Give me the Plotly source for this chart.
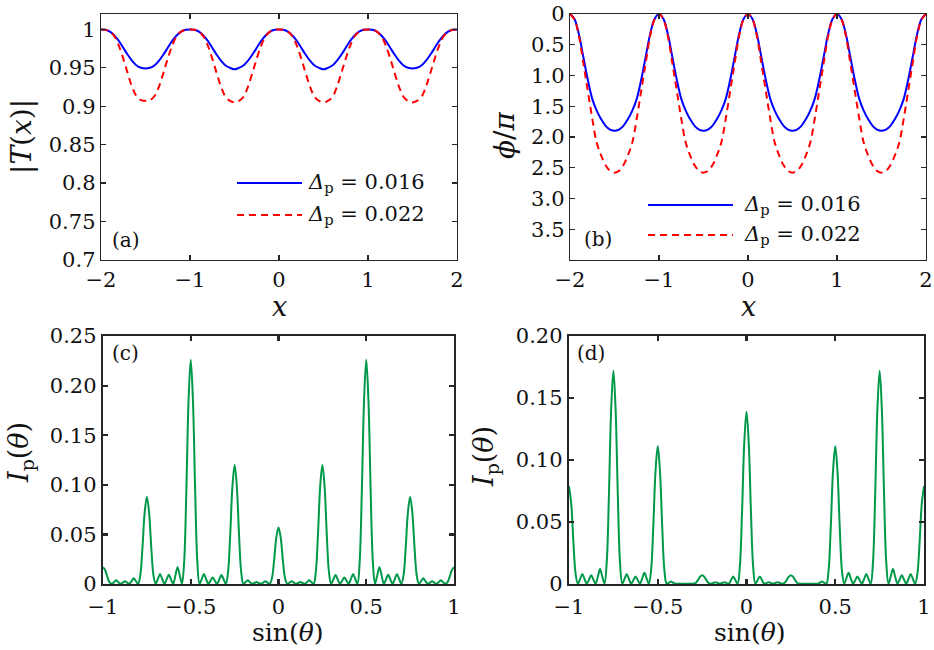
import numpy as np
import plotly.graph_objects as go

W, H = 934, 650

# ---------------- data ----------------
x_top = np.round(np.linspace(-2, 2, 81), 3)          # x, step 0.05
x_bot = np.round(np.linspace(-1, 1, 161), 4)         # sin(theta), step 0.0125

absT_016 = [
    1.000, 0.9995, 0.997, 0.992, 0.985, 0.976, 0.967, 0.959, 0.953, 0.950, 0.949, 0.950, 0.953, 0.959, 0.967, 0.976, 0.985, 0.992, 0.997, 0.9995,
    1.000, 0.9995, 0.997, 0.992, 0.985, 0.976, 0.967, 0.959, 0.953, 0.950, 0.948, 0.950, 0.953, 0.959, 0.967, 0.976, 0.985, 0.992, 0.997, 0.9995,
    1.000, 0.9995, 0.997, 0.992, 0.985, 0.976, 0.967, 0.959, 0.953, 0.950, 0.948, 0.950, 0.953, 0.959, 0.967, 0.976, 0.985, 0.992, 0.997, 0.9995,
    1.000, 0.9995, 0.997, 0.992, 0.985, 0.976, 0.967, 0.959, 0.953, 0.950, 0.949, 0.950, 0.953, 0.959, 0.967, 0.976, 0.985, 0.992, 0.997, 0.9995,
    1.000]
absT_022 = [
    1.000, 0.9995, 0.997, 0.991, 0.979, 0.962, 0.943, 0.925, 0.913, 0.908, 0.907, 0.908, 0.913, 0.925, 0.943, 0.962, 0.979, 0.991, 0.997, 0.9995,
    1.000, 0.9995, 0.997, 0.991, 0.979, 0.962, 0.943, 0.925, 0.912, 0.907, 0.905, 0.907, 0.912, 0.925, 0.943, 0.962, 0.979, 0.991, 0.997, 0.9995,
    1.000, 0.9995, 0.997, 0.991, 0.979, 0.962, 0.943, 0.925, 0.912, 0.907, 0.905, 0.907, 0.912, 0.925, 0.943, 0.962, 0.979, 0.991, 0.997, 0.9995,
    1.000, 0.9995, 0.997, 0.991, 0.979, 0.962, 0.943, 0.925, 0.912, 0.907, 0.905, 0.907, 0.912, 0.925, 0.943, 0.962, 0.979, 0.991, 0.997, 0.9995,
    1.000]
phi_016 = [
    0.00, 0.08, 0.33, 0.70, 1.07, 1.38, 1.57, 1.71, 1.82, 1.88, 1.90, 1.88, 1.82, 1.71, 1.57, 1.38, 1.07, 0.70, 0.33, 0.08,
    0.00, 0.08, 0.33, 0.70, 1.07, 1.38, 1.57, 1.71, 1.82, 1.88, 1.90, 1.88, 1.82, 1.71, 1.57, 1.38, 1.07, 0.70, 0.33, 0.08,
    0.00, 0.08, 0.33, 0.70, 1.07, 1.38, 1.57, 1.71, 1.82, 1.88, 1.90, 1.88, 1.82, 1.71, 1.57, 1.38, 1.07, 0.70, 0.33, 0.08,
    0.00, 0.08, 0.33, 0.70, 1.07, 1.38, 1.57, 1.71, 1.82, 1.88, 1.90, 1.88, 1.82, 1.71, 1.57, 1.38, 1.07, 0.70, 0.33, 0.08,
    0.00]
phi_022 = [
    0.00, 0.09, 0.36, 0.80, 1.25, 1.70, 2.09, 2.30, 2.46, 2.55, 2.58, 2.55, 2.46, 2.30, 2.09, 1.70, 1.25, 0.80, 0.36, 0.09,
    0.00, 0.09, 0.36, 0.80, 1.25, 1.70, 2.09, 2.30, 2.46, 2.55, 2.58, 2.55, 2.46, 2.30, 2.09, 1.70, 1.25, 0.80, 0.36, 0.09,
    0.00, 0.09, 0.36, 0.80, 1.25, 1.70, 2.09, 2.30, 2.46, 2.55, 2.58, 2.55, 2.46, 2.30, 2.09, 1.70, 1.25, 0.80, 0.36, 0.09,
    0.00, 0.09, 0.36, 0.80, 1.25, 1.70, 2.09, 2.30, 2.46, 2.55, 2.58, 2.55, 2.46, 2.30, 2.09, 1.70, 1.25, 0.80, 0.36, 0.09,
    0.00]

Ip_c = [
    0.0170, 0.0139, 0.0071, 0.0017, 0.0003, 0.0018, 0.0037, 0.0018, 0.0003, 0.0013, 0.0027, 0.0013, 0.0003, 0.0028, 0.0057, 0.0028, 0.0003, 0.0088, 0.0370, 0.0722, 0.0880,
    0.0722, 0.0370, 0.0088, 0.0003, 0.0050, 0.0100, 0.0050, 0.0003, 0.0046, 0.0093, 0.0046, 0.0003, 0.0085, 0.0170, 0.0085, 0.0003, 0.0226, 0.0949, 0.1853, 0.2260,
    0.1853, 0.0949, 0.0226, 0.0003, 0.0050, 0.0100, 0.0050, 0.0003, 0.0033, 0.0065, 0.0033, 0.0003, 0.0045, 0.0090, 0.0045, 0.0003, 0.0120, 0.0504, 0.0984, 0.1200,
    0.0984, 0.0504, 0.0120, 0.0003, 0.0018, 0.0037, 0.0018, 0.0003, 0.0010, 0.0020, 0.0010, 0.0003, 0.0013, 0.0027, 0.0013, 0.0003, 0.0057, 0.0239, 0.0467, 0.0570,
    0.0467, 0.0239, 0.0057, 0.0003, 0.0013, 0.0027, 0.0013, 0.0003, 0.0010, 0.0020, 0.0010, 0.0003, 0.0018, 0.0037, 0.0018, 0.0003, 0.0120, 0.0504, 0.0984, 0.1200,
    0.0984, 0.0504, 0.0120, 0.0003, 0.0045, 0.0090, 0.0045, 0.0003, 0.0033, 0.0065, 0.0033, 0.0003, 0.0050, 0.0100, 0.0050, 0.0003, 0.0226, 0.0949, 0.1853, 0.2260,
    0.1853, 0.0949, 0.0226, 0.0003, 0.0085, 0.0170, 0.0085, 0.0003, 0.0046, 0.0093, 0.0046, 0.0003, 0.0050, 0.0100, 0.0050, 0.0003, 0.0088, 0.0370, 0.0722, 0.0880,
    0.0722, 0.0370, 0.0088, 0.0003, 0.0028, 0.0057, 0.0028, 0.0003, 0.0013, 0.0027, 0.0013, 0.0003, 0.0018, 0.0037, 0.0018, 0.0003, 0.0017, 0.0071, 0.0139, 0.0170]

Ip_d = [
    0.0790, 0.0648, 0.0332, 0.0079, 0.0003, 0.0040, 0.0080, 0.0040, 0.0003, 0.0035, 0.0070, 0.0035, 0.0003, 0.0060, 0.0120, 0.0060, 0.0003, 0.0172, 0.0722, 0.1410, 0.1720,
    0.1410, 0.0722, 0.0172, 0.0003, 0.0040, 0.0080, 0.0040, 0.0003, 0.0030, 0.0060, 0.0030, 0.0003, 0.0045, 0.0090, 0.0045, 0.0003, 0.0111, 0.0466, 0.0910, 0.1110,
    0.0910, 0.0466, 0.0111, 0.0003, 0.0010, 0.0020, 0.0010, 0.0003, 0.0003, 0.0003, 0.0003, 0.0003, 0.0003, 0.0003, 0.0003, 0.0003, 0.0007, 0.0029, 0.0057, 0.0070,
    0.0057, 0.0029, 0.0007, 0.0003, 0.0008, 0.0015, 0.0008, 0.0003, 0.0008, 0.0015, 0.0008, 0.0003, 0.0030, 0.0060, 0.0030, 0.0003, 0.0139, 0.0584, 0.1140, 0.1390,
    0.1140, 0.0584, 0.0139, 0.0003, 0.0030, 0.0060, 0.0030, 0.0003, 0.0008, 0.0015, 0.0008, 0.0003, 0.0008, 0.0015, 0.0008, 0.0003, 0.0007, 0.0029, 0.0057, 0.0070,
    0.0057, 0.0029, 0.0007, 0.0003, 0.0003, 0.0003, 0.0003, 0.0003, 0.0003, 0.0003, 0.0003, 0.0003, 0.0010, 0.0020, 0.0010, 0.0003, 0.0111, 0.0466, 0.0910, 0.1110,
    0.0910, 0.0466, 0.0111, 0.0003, 0.0045, 0.0090, 0.0045, 0.0003, 0.0030, 0.0060, 0.0030, 0.0003, 0.0040, 0.0080, 0.0040, 0.0003, 0.0172, 0.0722, 0.1410, 0.1720,
    0.1410, 0.0722, 0.0172, 0.0003, 0.0060, 0.0120, 0.0060, 0.0003, 0.0035, 0.0070, 0.0035, 0.0003, 0.0040, 0.0080, 0.0040, 0.0003, 0.0079, 0.0332, 0.0648, 0.0790]

legend_labels = ["<i>Δ</i><sub>p</sub> = 0.016", "<i>Δ</i><sub>p</sub> = 0.022"]

ticks_x_top = [-2, -1, 0, 1, 2]
ticktext_x_top = ["−2", "−1", "0", "1", "2"]
ticks_y_a = [0.7, 0.75, 0.8, 0.85, 0.9, 0.95, 1.0]
ticktext_y_a = ["0.7", "0.75", "0.8", "0.85", "0.9", "0.95", "1"]
ticks_y_b = [0, 0.5, 1.0, 1.5, 2.0, 2.5, 3.0, 3.5]
ticktext_y_b = ["0", "0.5", "1.0", "1.5", "2.0", "2.5", "3.0", "3.5"]
ticks_x_bot = [-1, -0.5, 0, 0.5, 1]
ticktext_x_bot = ["−1", "−0.5", "0", "0.5", "1"]
ticks_y_c = [0, 0.05, 0.10, 0.15, 0.20, 0.25]
ticktext_y_c = ["0", "0.05", "0.10", "0.15", "0.20", "0.25"]
ticks_y_d = [0, 0.05, 0.10, 0.15, 0.20]
ticktext_y_d = ["0", "0.05", "0.10", "0.15", "0.20"]

# ---------------- styling ----------------
BLUE = "#0000FF"
RED = "#FF0000"
GREEN = "#00994A"
AX = "#262626"
TXT = "#111111"
FONT = "DejaVu Serif"
RED_DASH = "7px,5px"


def px(x):
    return x / W


def py(y):
    return 1 - y / H


# panel rectangles in canvas pixels: (left, right, top, bottom)
rects = {
    "a": (101, 457, 14, 260),
    "b": (570, 926, 14, 260),
    "c": (103, 454, 336, 584),
    "d": (569, 924, 336, 584),
}

fig = go.Figure()

fig.add_trace(go.Scatter(x=x_top, y=absT_016, mode="lines", line=dict(color=BLUE, width=2, shape="spline"),
                         xaxis="x", yaxis="y", showlegend=False))
fig.add_trace(go.Scatter(x=x_top, y=absT_022, mode="lines", line=dict(color=RED, width=2, dash=RED_DASH, shape="spline"),
                         xaxis="x", yaxis="y", showlegend=False))
fig.add_trace(go.Scatter(x=x_top, y=phi_016, mode="lines", line=dict(color=BLUE, width=2, shape="spline"),
                         xaxis="x2", yaxis="y2", showlegend=False))
fig.add_trace(go.Scatter(x=x_top, y=phi_022, mode="lines", line=dict(color=RED, width=2, dash=RED_DASH, shape="spline"),
                         xaxis="x2", yaxis="y2", showlegend=False))
fig.add_trace(go.Scatter(x=x_bot, y=Ip_c, mode="lines", line=dict(color=GREEN, width=2, shape="spline", smoothing=1.0),
                         xaxis="x3", yaxis="y3", showlegend=False))
fig.add_trace(go.Scatter(x=x_bot, y=Ip_d, mode="lines", line=dict(color=GREEN, width=2, shape="spline", smoothing=1.0),
                         xaxis="x4", yaxis="y4", showlegend=False))


def axis(dom, rng, tv, tt, lw):
    return dict(domain=dom, range=rng, tickvals=tv, ticktext=tt, showline=True, linecolor=AX,
                linewidth=lw, mirror="ticks", ticks="inside", ticklen=5, tickwidth=lw, tickcolor=AX,
                showgrid=False, zeroline=False, fixedrange=True, automargin=False,
                tickfont=dict(family=FONT, size=21, color=TXT))


layout_axes = {}
names = [("a", "x", "y"), ("b", "x2", "y2"), ("c", "x3", "y3"), ("d", "x4", "y4")]
cfg = {
    "a": ([-2, 2], ticks_x_top, ticktext_x_top, [0.7, 1.02], ticks_y_a, ticktext_y_a, 1.3),
    "b": ([-2, 2], ticks_x_top, ticktext_x_top, [4, 0], ticks_y_b, ticktext_y_b, 1.3),
    "c": ([-1, 1], ticks_x_bot, ticktext_x_bot, [0, 0.25], ticks_y_c, ticktext_y_c, 2.2),
    "d": ([-1, 1], ticks_x_bot, ticktext_x_bot, [0, 0.2], ticks_y_d, ticktext_y_d, 2.2),
}
for key, xa, ya in names:
    l, r, t, b = rects[key]
    xr, xtv, xtt, yr, ytv, ytt, lw = cfg[key]
    xd = axis([px(l), px(r)], xr, xtv, xtt, lw)
    xd["anchor"] = ya
    if key in ("c", "d"):
        xd["ticklabelstandoff"] = 3
    yd = axis([py(b), py(t)], yr, ytv, ytt, lw)
    yd["anchor"] = xa
    layout_axes["xaxis" + xa[1:]] = xd
    layout_axes["yaxis" + ya[1:]] = yd

fig.update_layout(**layout_axes)

ann = []


def text(x, y, s, size, xanchor="center", angle=0):
    ann.append(dict(x=px(x), y=py(y), xref="paper", yref="paper", text=s, showarrow=False,
                    xanchor=xanchor, yanchor="middle", textangle=angle,
                    font=dict(family=FONT, size=size, color=TXT)))


# axis titles
text(21, 137, "|<i>T</i>(<i>x</i>)|", 28, angle=-90)
text(279, 306, "<i>x</i>", 27)
text(504, 135, "<i>ϕ</i>/<i>π</i>", 28, angle=-90)
text(748, 306, "<i>x</i>", 27)
text(20, 453, "<i>I</i><sub>p</sub>(<i>θ</i>)", 27, angle=-90)
text(288, 632, "sin(<i>θ</i>)", 25)
text(485, 457, "<i>I</i><sub>p</sub>(<i>θ</i>)", 27, angle=-90)
text(750, 632, "sin(<i>θ</i>)", 25)

# panel labels
text(126, 240, "(a)", 20)
text(598, 239, "(b)", 20)
text(126, 353, "(c)", 20)
text(591, 353, "(d)", 20)

# legends (drawn as shapes + text)
shapes = []
for (x0, x1, tx, ys) in [(237, 302, 306, [183, 215]), (648, 733, 742, [205, 235])]:
    for i, yy in enumerate(ys):
        shapes.append(dict(type="line", xref="paper", yref="paper", x0=px(x0), x1=px(x1), y0=py(yy), y1=py(yy),
                           line=dict(color=[BLUE, RED][i], width=2, dash=["solid", RED_DASH][i])))
        text(tx, yy, legend_labels[i], 21, xanchor="left")

fig.update_layout(
    template="none",
    width=W, height=H, margin=dict(l=0, r=0, t=0, b=0, autoexpand=False),
    paper_bgcolor="white", plot_bgcolor="white",
    annotations=ann, shapes=shapes, showlegend=False,
)

# remove the page's default body margin so the 934x650 figure sits at the window origin
fig.write_html("out.html", config={"displayModeBar": False, "staticPlot": True},
               post_script="document.body.style.margin='0';document.body.style.overflow='hidden';")
